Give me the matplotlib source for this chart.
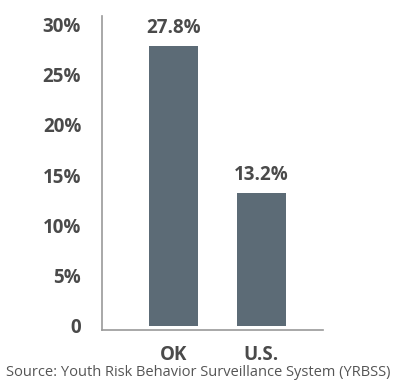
import matplotlib.pyplot as plt

plt.rcParams['font.family'] = ['Open Sans', 'DejaVu Sans']

labels = ['OK', 'U.S.']
values = [27.8, 13.2]
yticks = [0, 5, 10, 15, 20, 25, 30]
ytick_labels = ['0', '5%', '10%', '15%', '20%', '25%', '30%']

bar_color = '#5c6b76'
text_color = '#4a4a4a'

fig = plt.figure(figsize=(3.97, 3.92), dpi=100)
ax = fig.add_axes([102 / 397, 1 - 330 / 392, 221 / 397, 314 / 392])

x = range(len(labels))
ax.bar(x, values, width=0.56, color=bar_color)

for xi, v in zip(x, values):
    ax.text(xi, v + 0.8, f'{v:.1f}%', ha='center', va='bottom',
            fontsize=13.5, fontweight='bold', color=text_color)

ax.set_xlim(-0.81, 1.70)
ax.set_ylim(-0.4, 30.8)
ax.set_xticks(list(x))
ax.set_xticklabels(labels, fontsize=13.5, fontweight='bold', color=text_color)
ax.set_yticks(yticks)
ax.set_yticklabels(ytick_labels, fontsize=13.5, fontweight='bold', color=text_color)
ax.tick_params(length=0)
ax.tick_params(axis='y', pad=15)
ax.tick_params(axis='x', pad=11)

for s in ['top', 'right']:
    ax.spines[s].set_visible(False)
for s in ['left', 'bottom']:
    ax.spines[s].set_color('#999999')
    ax.spines[s].set_linewidth(1.2)

fig.text(0.5, 1 - 373 / 392, 'Source: Youth Risk Behavior Surveillance System (YRBSS)',
         ha='center', va='center', fontsize=10.5, color='#555555')

fig.savefig('out.png', dpi=100)
